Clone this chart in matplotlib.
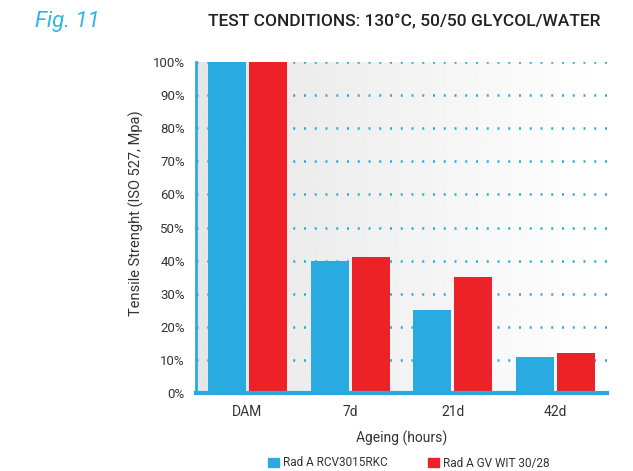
import matplotlib
matplotlib.use("Agg")
import matplotlib.pyplot as plt
import numpy as np

# data
categories = ["DAM", "7d", "21d", "42d"]
rcv_values = [100, 40, 25, 11]
gv_values = [100, 41, 35, 12]
y_ticks = [0, 10, 20, 30, 40, 50, 60, 70, 80, 90, 100]
series_names = ["Rad A RCV3015RKC", "Rad A GV WIT 30/28"]

blue = "#29abe2"
red = "#ed2229"
txt = "#333333"

plt.rcParams['font.family'] = ['Roboto', 'DejaVu Sans']

fig = plt.figure(figsize=(6.33, 4.71), dpi=100)
ax = fig.add_axes([196 / 633, 1 - 393 / 471, 411 / 633, 331 / 471])

# gradient background
grad = np.linspace(0.90, 1.0, 256).reshape(1, -1)
ax.imshow(grad, cmap="gray", vmin=0, vmax=1, aspect="auto",
          extent=[-0.5, 3.5, 0, 100], zorder=0)

x = np.arange(len(categories))
ax.bar(x - 0.2, rcv_values, width=0.37, color=blue, zorder=3)
ax.bar(x + 0.2, gv_values, width=0.37, color=red, zorder=3)

for t in y_ticks[1:]:
    ax.axhline(t, color=blue, linestyle=(0, (0.8, 3.5)), linewidth=1.8, zorder=2)

ax.set_xlim(-0.5, 3.5)
ax.set_ylim(0, 100)
ax.set_yticks(y_ticks)
ax.set_yticklabels([f"{t}%" for t in y_ticks], color=txt, fontsize=9.5)
ax.set_xticks(x)
ax.set_xticklabels(categories, color=txt, fontsize=10)
ax.tick_params(axis="y", length=0, pad=8)
ax.tick_params(axis="x", length=0, pad=9)

for s in ["top", "right"]:
    ax.spines[s].set_visible(False)
ax.spines["left"].set_color(blue)
ax.spines["left"].set_linewidth(2)
ax.spines["bottom"].set_color(blue)
ax.spines["bottom"].set_linewidth(3)
ax.spines["bottom"].set_zorder(4)

ax.set_xlabel("Ageing (hours)", color=txt, fontsize=10, labelpad=8)
ax.set_ylabel("Tensile Strenght (ISO 527, Mpa)", color=txt, fontsize=10.5)
ax.yaxis.set_label_coords((144 - 196) / 411, (393 - 213) / 331)

fig.text(35 / 633, 1 - 22 / 471, "Fig. 11", color="#29b6e8", fontsize=16,
         style="italic", va="center")
fig.text(208 / 633, 1 - 22 / 471, "TEST CONDITIONS: 130°C, 50/50 GLYCOL/WATER",
         color="#222222", fontsize=12.5, fontweight="medium", va="center")

handles = [plt.Rectangle((0, 0), 1, 1, color=blue), plt.Rectangle((0, 0), 1, 1, color=red)]
fig.legend(handles, series_names, loc="center", bbox_to_anchor=(409 / 633, 1 - 463 / 471),
           ncol=2, frameon=False, fontsize=8.5, handlelength=0.9, handleheight=0.9,
           columnspacing=3.4, handletextpad=0.4, labelcolor=txt)

fig.savefig("out.png", dpi=100)
